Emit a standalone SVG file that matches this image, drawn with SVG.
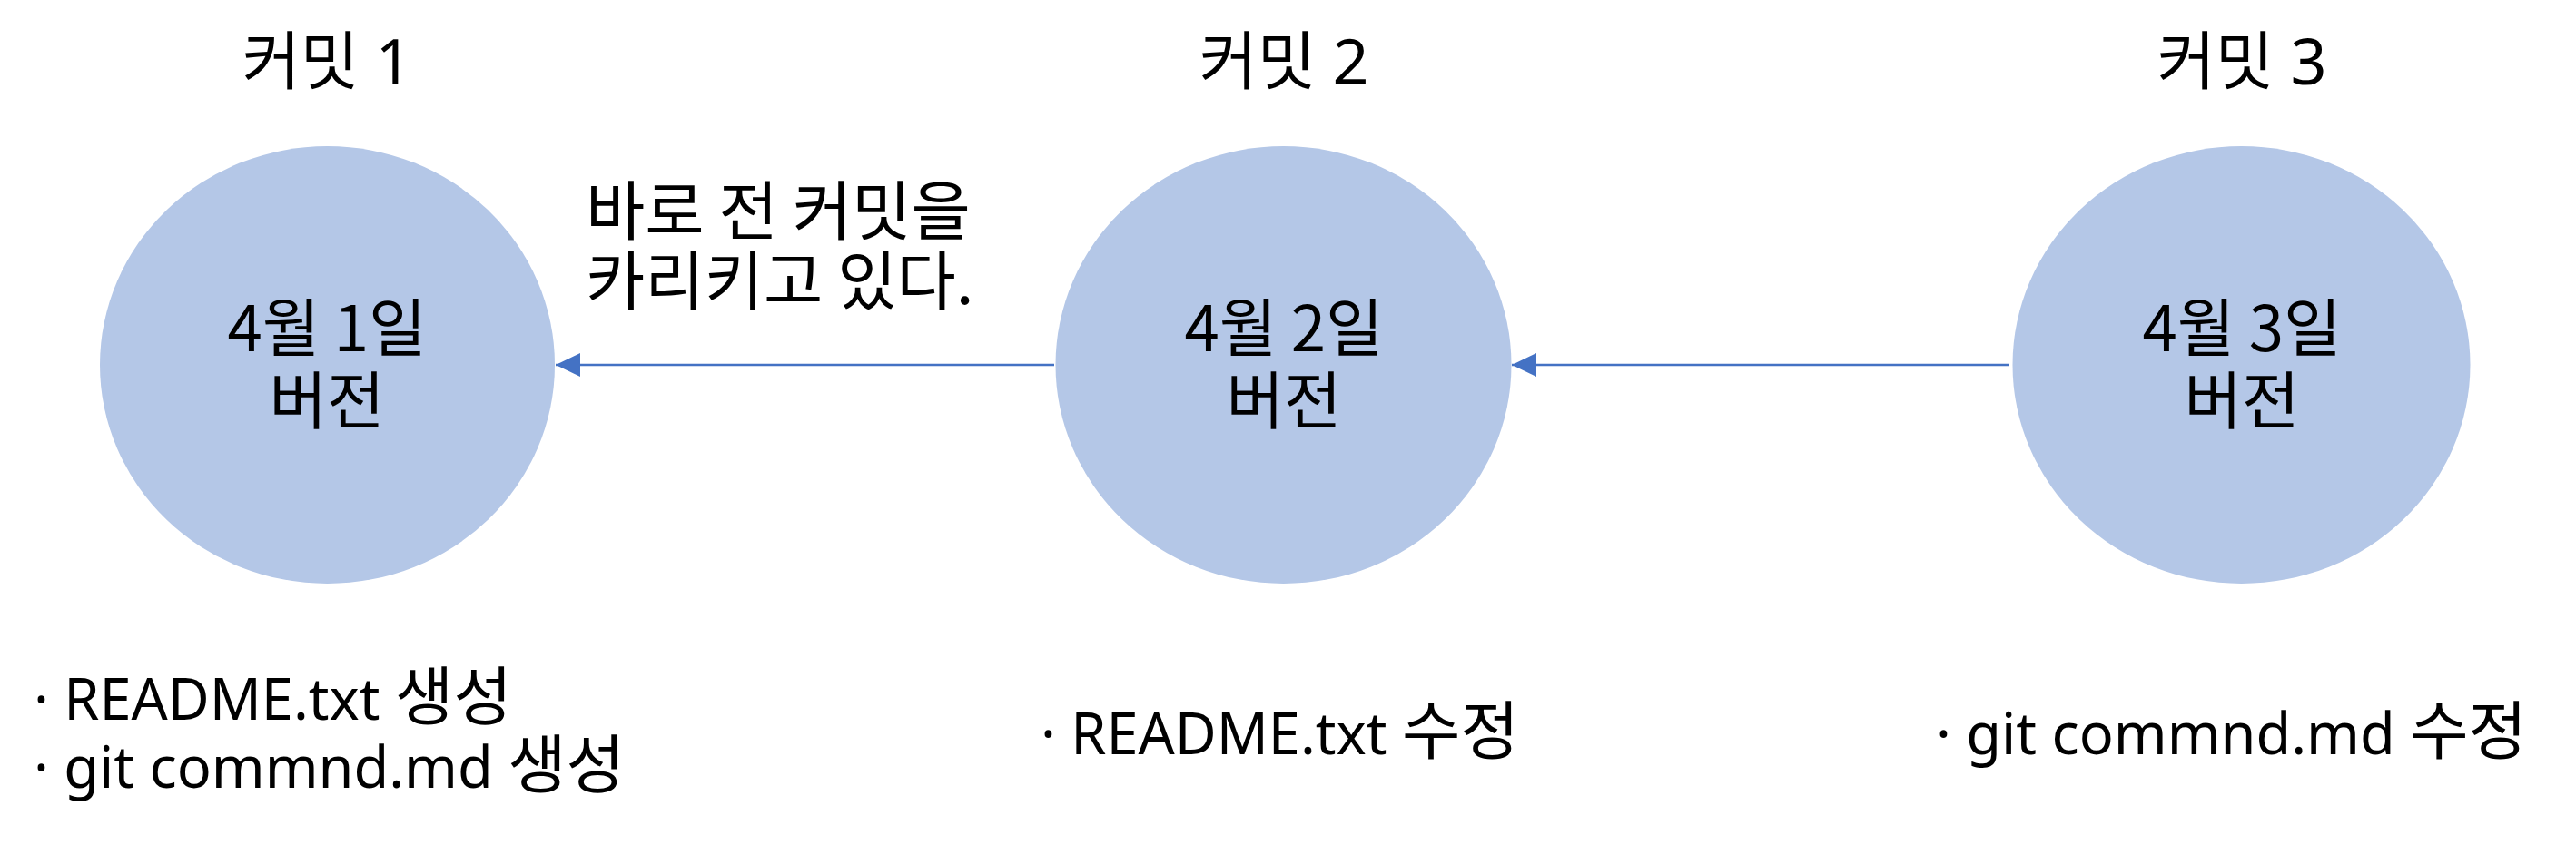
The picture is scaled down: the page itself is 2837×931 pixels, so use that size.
<svg xmlns="http://www.w3.org/2000/svg" width="2837" height="931" viewBox="0 0 2837 931">
<style>
text{font-family:"Noto Sans","Noto Sans CJK KR",sans-serif;fill:#000}
.k{font-family:"Noto Sans CJK KR","Noto Sans",sans-serif}
.t{font-size:70px;text-anchor:middle}
.in{font-size:69px;text-anchor:middle}
.lb{font-size:71px}
.b{font-size:63px}
.h{font-size:70px}
.node ellipse{fill:#B4C7E7}
.conn line{stroke:#4472C4;stroke-width:2.5}
</style>
<defs>
<marker id="ah" markerUnits="userSpaceOnUse" markerWidth="28" markerHeight="28" refX="27" refY="13" orient="auto">
<path d="M0,0 L27,13 L0,26 z" fill="#4472C4"/>
</marker>
</defs>
<rect width="2837" height="931" fill="#fff"/>
<g id="commit1" class="node">
<text class="t" x="360" y="93">커밋 1</text>
<ellipse cx="360.5" cy="402" rx="250.5" ry="241"/>
<text class="in k" x="360" y="387">4월 1일<tspan x="360" dy="80">버전</tspan></text>
<text class="b" x="37" y="793">· README.txt <tspan class="h">생성</tspan></text>
<text class="b" x="37" y="868">· git commnd.md <tspan class="h">생성</tspan></text>
</g>
<g id="commit2" class="node">
<text class="t" x="1414" y="93">커밋 2</text>
<ellipse cx="1413.5" cy="402" rx="251" ry="241"/>
<text class="in k" x="1414" y="387">4월 2일<tspan x="1414" dy="80">버전</tspan></text>
<text class="b" x="1146" y="831">· README.txt <tspan class="h">수정</tspan></text>
</g>
<g id="commit3" class="node">
<text class="t" x="2469" y="93">커밋 3</text>
<ellipse cx="2468.5" cy="402" rx="252" ry="241"/>
<text class="in k" x="2469" y="387">4월 3일<tspan x="2469" dy="80">버전</tspan></text>
<text class="b" x="2132" y="831">· git commnd.md <tspan class="h">수정</tspan></text>
</g>
<g id="connectors" class="conn">
<line x1="1161" y1="402" x2="612" y2="402" marker-end="url(#ah)"/>
<line x1="2213" y1="402" x2="1665" y2="402" marker-end="url(#ah)"/>
<text class="lb k" x="645" y="258">바로 전 커밋을<tspan x="645" dy="77">카리키고 있다.</tspan></text>
</g>
</svg>
